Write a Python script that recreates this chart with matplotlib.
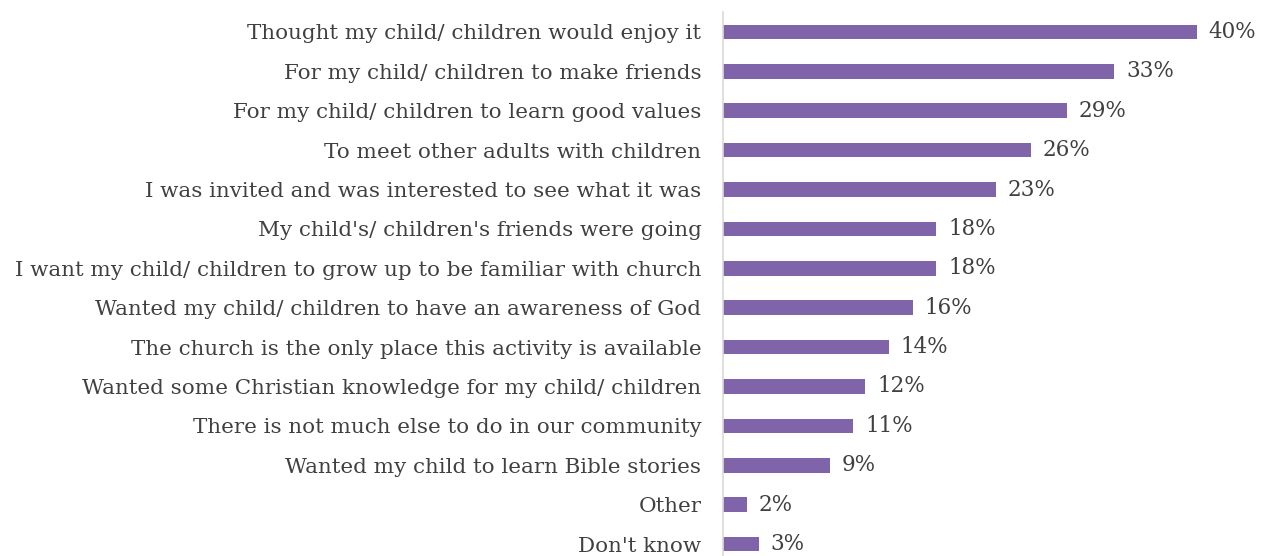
import matplotlib.pyplot as plt

reasons = [
    "Thought my child/ children would enjoy it",
    "For my child/ children to make friends",
    "For my child/ children to learn good values",
    "To meet other adults with children",
    "I was invited and was interested to see what it was",
    "My child's/ children's friends were going",
    "I want my child/ children to grow up to be familiar with church",
    "Wanted my child/ children to have an awareness of God",
    "The church is the only place this activity is available",
    "Wanted some Christian knowledge for my child/ children",
    "There is not much else to do in our community",
    "Wanted my child to learn Bible stories",
    "Other",
    "Don't know",
]
share = [40, 33, 29, 26, 23, 18, 18, 16, 14, 12, 11, 9, 2, 3]

plt.rcParams['font.family'] = ['DejaVu Serif']

fig = plt.figure(figsize=(12.61, 5.56), dpi=100)
ax = fig.add_axes([723 / 1261, -7.7 / 556, 538 / 1261, 551.4 / 556])

pos = range(len(reasons))
ax.barh(pos, share, height=0.37, color='#8064AA')
ax.set_ylim(len(reasons) - 0.5, -0.5)
ax.set_xlim(0, 45.4)

for y, v in zip(pos, share):
    ax.text(v + 1.0, y, f"{v}%", va='center', ha='left', fontsize=15.5, color='#404040')

ax.set_yticks(list(pos))
ax.set_yticklabels(reasons, fontsize=15.4, color='#404040')
ax.tick_params(axis='y', length=0, pad=15.5)
ax.set_xticks([])
for s in ['top', 'right', 'bottom']:
    ax.spines[s].set_visible(False)
ax.spines['left'].set_color('#d9d9d9')
ax.spines['left'].set_linewidth(1.2)

fig.savefig('out.png', dpi=100)
